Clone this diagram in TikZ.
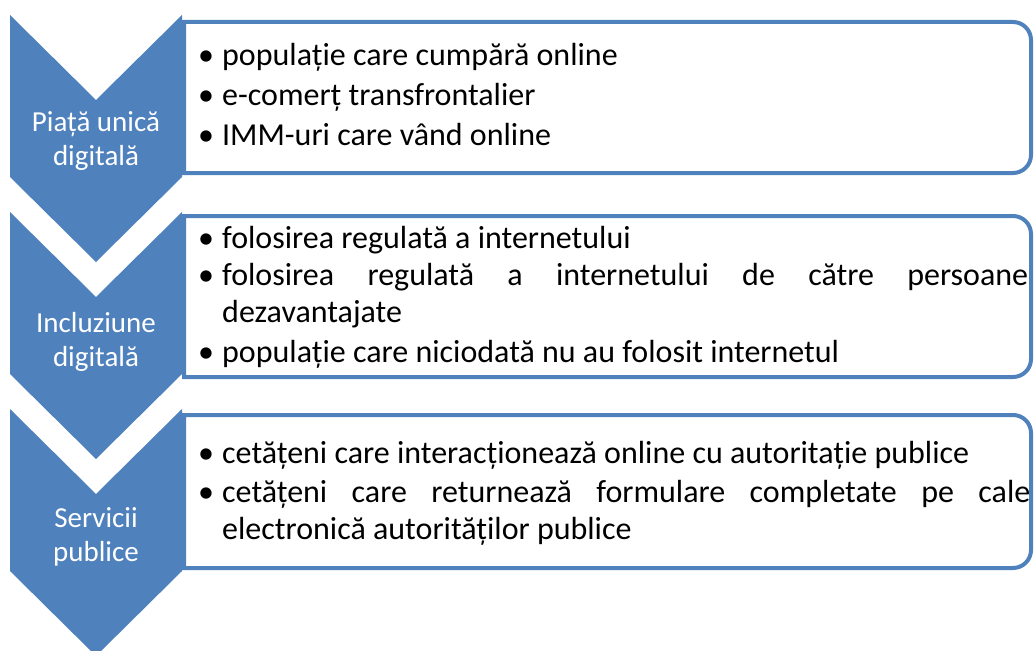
\documentclass[tikz,border=0pt]{standalone}
\usepackage{fontspec}
\setmainfont{Carlito}
\definecolor{chev}{HTML}{4F81BD}
\tikzset{
  chevshape/.style={fill=chev, draw=none},
  boxshape/.style={draw=chev, line width=4pt, fill=white},
  chevlabel/.style={text=white, font=\fontsize{29}{34}\selectfont, align=center, inner sep=0pt},
  itemline/.style={anchor=base west, inner sep=0pt, font=\fontsize{32}{38}\selectfont, text=black},
}
\newcommand{\bul}{\makebox[24pt][l]{•}}
\begin{document}
\begin{tikzpicture}[x=1pt, y=-1pt]
\useasboundingbox (0,0) rectangle (1035,650);
\clip (0,0) rectangle (1035,650);
% boxes
\foreach \t/\b in {22/173, 216/377, 415/568}{
  \draw[boxshape] (184,\t) [rounded corners=18pt] -- (1031,\t) -- (1031,\b) [sharp corners] -- (184,\b) -- cycle;
}
% chevrons
\foreach \o in {0,197,394}{
  \fill[chevshape] (10,15+\o) -- (96,100+\o) -- (182,15+\o) -- (182,177+\o) -- (96,262+\o) -- (10,177+\o) -- cycle;
}
\node[chevlabel] (c1) at (96,141) {Piață unică\\digitală};
\node[chevlabel] (c2) at (96,342) {Incluziune\\digitală};
\node[chevlabel] (c3) at (96,537) {Servicii\\publice};
% box 1
\node[itemline] (a1) at (198,66) {\bul populație care cumpără online};
\node[itemline] (a2) at (198,106) {\bul e-comerț transfrontalier};
\node[itemline] (a3) at (198,146) {\bul IMM-uri care vând online};
% box 2
\node[itemline] (b1) at (198,248) {\bul folosirea regulată a internetului};
\node[itemline] (b2) at (198,285) {\bul\makebox[806pt][s]{folosirea regulată a internetului de către persoane}};
\node[itemline] (b3) at (222,322) {dezavantajate};
\node[itemline] (b4) at (198,362) {\bul populație care niciodată nu au folosit internetul};
% box 3
\node[itemline] (d1) at (198,463) {\bul cetățeni care interacționează online cu autoritație publice};
\node[itemline] (d2) at (198,502) {\bul\makebox[808pt][s]{cetățeni care returnează formulare completate pe cale}};
\node[itemline] (d3) at (222,539) {electronică autorităților publice};
\end{tikzpicture}
\end{document}
